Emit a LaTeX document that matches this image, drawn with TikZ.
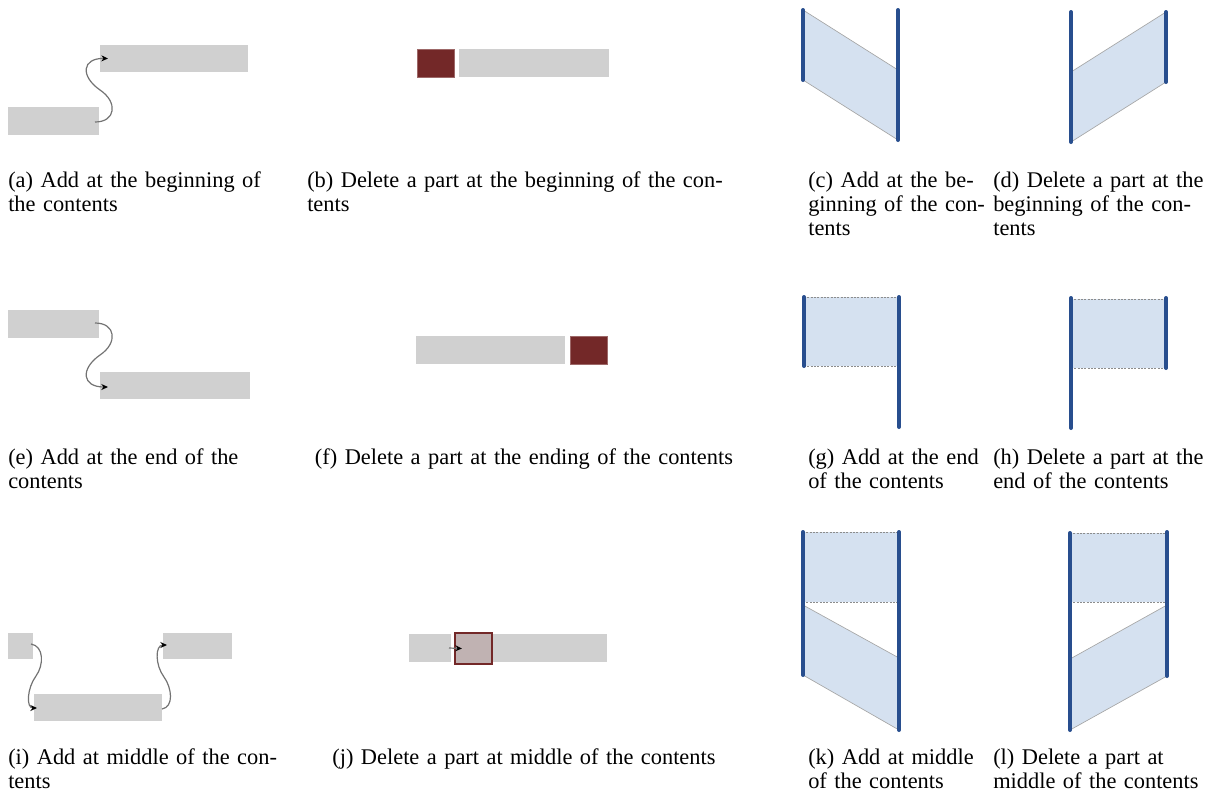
\documentclass[tikz,border=0pt]{standalone}
\usepackage{fontspec}
\setmainfont{Liberation Serif}
\usetikzlibrary{calc, positioning, arrows.meta}
\definecolor{boxgray}{RGB}{208,208,208}
\definecolor{boxred}{RGB}{115,40,40}
\definecolor{boxtan}{RGB}{192,178,178}
\definecolor{barblue}{RGB}{40,78,142}
\definecolor{sheetblue}{RGB}{213,225,240}
\newcommand{\jline}[1]{\makebox[\linewidth][s]{#1}}

\begin{document}
\begin{tikzpicture}[x=0.75pt, y=-0.75pt,
            sz/.style 2 args={minimum width=#1*0.75pt, minimum height=#2*0.75pt},
            graybox/.style={rectangle, fill=boxgray, draw=none, inner sep=0pt, outer sep=0pt},
            redbox/.style={rectangle, fill=boxred, draw=boxred!70, inner sep=0pt, outer sep=0pt},
            cutbox/.style={rectangle, fill=boxtan, draw=boxred, line width=1.3pt, inner sep=0pt, outer sep=0pt},
            jump/.style={draw=black!55, line width=0.9pt, -{Stealth[length=5pt, width=4.5pt, color=black]}},
            bar/.style={draw=barblue, line width=3pt, line cap=round},
            sheet/.style={fill=sheetblue, draw=none},
            seam/.style={draw=black!35, line width=0.5pt},
            dashseam/.style={draw=black!45, line width=0.6pt, dash pattern=on 1.5pt off 1pt},
            capt/.style={anchor=base west, inner sep=0pt, align=left, font=\fontsize{16.8}{18}\selectfont},
            ]
            \useasboundingbox (0,0) rectangle (1209,804);

            %Nodes (a)
            \node[graybox, sz={148}{27}] (upa)  at (174,58.5) {};
            \node[graybox, sz={91}{28}]  (lowa) at (53.5,121) {};
            %Nodes (b)
            \node[redbox, sz={37}{28}]   (cutb)  at (435.5,63) {};
            \node[graybox, sz={150}{28}] (restb) at (534,63) {};
            %Nodes (e)
            \node[graybox, sz={91}{28}]  (upe)  at (53.5,324) {};
            \node[graybox, sz={150}{27}] (lowe) at (175,385.5) {};
            %Nodes (f)
            \node[graybox, sz={149}{28}] (restf) at (490.5,350) {};
            \node[redbox, sz={37}{28}]   (cutf)  at (588.5,350) {};
            %Nodes (i)
            \node[graybox, sz={25}{26}]  (lefti) at (20.5,646) {};
            \node[graybox, sz={128}{27}] (midi)  at (98,707.5) {};
            \node[graybox, sz={69}{26}]  (righti) at (197.5,646) {};
            %Nodes (j)
            \node[graybox, sz={42}{28}]  (leftj)  at (430,648) {};
            \node[graybox, sz={115}{28}] (rightj) at (549.5,648) {};
            \node[cutbox, sz={37}{31}]   (cutj)   at (473.5,648.5) {};

            %Lines
            \draw[jump] ($(lowa.east)+(-4,1)$) .. controls (116,122) and (118,102) .. (100,90)
                .. controls (80,76) and (82,58) .. ($(upa.west)+(8,0)$);
            \draw[jump] ($(upe.east)+(-4,-1)$) .. controls (116,323) and (118,343) .. (100,355)
                .. controls (80,369) and (82,387) .. ($(lowe.west)+(8,1.5)$);
            \draw[jump] ($(lefti.east)+(-2,-2)$) .. controls (44,646) and (44,665) .. (36,676)
                .. controls (27,688) and (26,708) .. ($(midi.west)+(3,0.5)$);
            \draw[jump] ($(midi.east)+(0,1.5)$) .. controls (174,707) and (172,688) .. (164,677)
                .. controls (155,665) and (155,645) .. ($(righti.west)+(4,-1)$);
            \draw[jump] ($(leftj.east)+(-2,0)$) -- ($(cutj.west)+(7,0)$);

            %Sheets (c)
            \fill[sheet] (803,10) -- (898,70) -- (898,140) -- (803,80) -- cycle;
            \draw[seam] (803,10) -- (898,70) (898,140) -- (803,80);
            \draw[bar] (803,10) -- (803,80);
            \draw[bar] (898,10) -- (898,140);
            %Sheets (d)
            \fill[sheet] (1071,72) -- (1166,12) -- (1166,82) -- (1071,142) -- cycle;
            \draw[seam] (1071,72) -- (1166,12) (1166,82) -- (1071,142);
            \draw[bar] (1071,12) -- (1071,142);
            \draw[bar] (1166,12) -- (1166,82);
            %Sheets (g)
            \fill[sheet] (804,297) rectangle (899,366);
            \draw[dashseam] (804,297) -- (899,297) (804,366) -- (899,366);
            \draw[bar] (804,297) -- (804,366);
            \draw[bar] (899,297) -- (899,427);
            %Sheets (h)
            \fill[sheet] (1071,299) rectangle (1166,368);
            \draw[dashseam] (1071,299) -- (1166,299) (1071,368) -- (1166,368);
            \draw[bar] (1071,298) -- (1071,428);
            \draw[bar] (1166,298) -- (1166,368);
            %Sheets (k)
            \fill[sheet] (803,532) rectangle (899,602);
            \fill[sheet] (803,605) -- (899,658) -- (899,730) -- (803,675) -- cycle;
            \draw[dashseam] (803,532) -- (899,532) (803,602) -- (899,602);
            \draw[seam] (803,605) -- (899,658) (899,730) -- (803,675);
            \draw[bar] (803,532) -- (803,675);
            \draw[bar] (899,532) -- (899,730);
            %Sheets (l)
            \fill[sheet] (1070,533) rectangle (1167,602);
            \fill[sheet] (1070,659) -- (1167,605) -- (1167,676) -- (1070,730) -- cycle;
            \draw[dashseam] (1070,533) -- (1167,533) (1070,602) -- (1167,602);
            \draw[seam] (1070,659) -- (1167,605) (1167,676) -- (1070,730);
            \draw[bar] (1070,533) -- (1070,730);
            \draw[bar] (1167,532) -- (1167,676);

            %Captions
            \node[capt, text width=200pt] (capa) at (8,187)
                {\jline{(a) Add at the beginning of}\\ the contents};
            \node[capt, text width=325pt] (capb) at (307,187)
                {\jline{(b) Delete a part at the beginning of the con-}\\ tents};
            \node[capt, text width=126pt] (capc) at (808,187)
                {\jline{(c) Add at the be-}\\ \jline{ginning of the con-}\\ tents};
            \node[capt, text width=155pt] (capd) at (993,187)
                {\jline{(d) Delete a part at the}\\ \jline{beginning of the con-}\\ tents};
            \node[capt, text width=200pt] (cape) at (8,464)
                {\jline{(e) Add at the end of the}\\ contents};
            \node[capt, text width=325pt, align=center] (capf) at (307,464)
                {(f) Delete a part at the ending of the contents};
            \node[capt, text width=126pt] (capg) at (808,464)
                {\jline{(g) Add at the end}\\ of the contents};
            \node[capt, text width=155pt] (caph) at (993,464)
                {\jline{(h) Delete a part at the}\\ end of the contents};
            \node[capt, text width=200pt] (capi) at (8,764)
                {\jline{(i) Add at middle of the con-}\\ tents};
            \node[capt, text width=325pt, align=center] (capj) at (307,764)
                {(j) Delete a part at middle of the contents};
            \node[capt, text width=126pt] (capk) at (808,764)
                {\jline{(k) Add at middle}\\ of the contents};
            \node[capt, text width=155pt] (capl) at (993,764)
                {\jline{(l) Delete a part at}\\ middle of the contents};
\end{tikzpicture}
\end{document}
